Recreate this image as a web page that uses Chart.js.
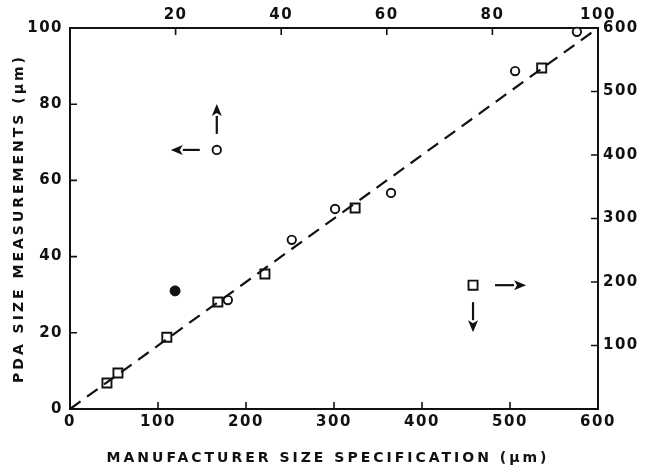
<!DOCTYPE html>
<html>
<head>
<meta charset="utf-8">
<script src="https://cdn.jsdelivr.net/npm/chart.js@4"></script>
<style>
  html, body { margin: 0; padding: 0; background: #fff; }
  #wrap { width: 648px; height: 475px; }
</style>
</head>
<body>
<div id="wrap"><canvas id="c"></canvas></div>
<script>
// PDA size measurements vs. manufacturer size specification, both in µm.

// Circle series: read on the top (0-100) and left (0-100) axes
const circleSpec = [29.9, 42, 50.2, 60.8, 84.3, 96];
const circleMeas = [28.6, 44.4, 52.5, 56.7, 88.7, 99];

// Filled circle (outlier), top/left axes
const outlierSpec = [19.9];
const outlierMeas = [31];

// Square series: read on the bottom (0-600) and right (0-600) axes
const squareSpec = [42, 54.5, 110, 168, 221.5, 324, 536];
const squareMeas = [41, 56.7, 113, 168.5, 212.6, 316.6, 537];

// Axis-key markers (each followed by arrows pointing to its axes)
const circleKeySpec = [27.8];
const circleKeyMeas = [68];
const squareKeySpec = [458];
const squareKeyMeas = [195];

// Line of equality, bottom/right axes
const equalitySpec = [0, 600];
const equalityMeas = [0, 600];

// Tick labels
const bottomTicks = [0, 100, 200, 300, 400, 500, 600];
const topTicks = [0, 20, 40, 60, 80, 100];
const leftTicks = [0, 20, 40, 60, 80, 100];
const rightTicks = [0, 100, 200, 300, 400, 500, 600];
const hiddenTopLabels = [0];
const hiddenRightLabels = [0];

const xTitle = 'MANUFACTURER SIZE SPECIFICATION (\u03BCm)';
const yTitle = 'PDA SIZE MEASUREMENTS (\u03BCm)';

const INK = '#111';
const tickFont = { family: 'DejaVu Sans', size: 15, weight: 'bold' };

const pairs = (xs, ys) => xs.map((v, i) => ({ x: v, y: ys[i] }));

function axis(position, min, max, ticks, hidden, size, pad) {
  return {
    type: 'linear',
    position: position,
    min: min,
    max: max,
    afterBuildTicks: s => { s.ticks = ticks.map(v => ({ value: v })); },
    afterFit: s => {
      if (position === 'left' || position === 'right') s.width = size; else s.height = size;
    },
    grid: { display: true, drawOnChartArea: false, drawTicks: false },
    border: { display: true, color: INK, width: 2 },
    ticks: {
      color: INK,
      font: tickFont,
      padding: pad,
      autoSkip: false,
      maxRotation: 0,
      callback: v => (hidden.includes(v) ? '' : String(v))
    }
  };
}

// Slightly wider spacing for the tick numerals
const tickSpacing = {
  id: 'tickSpacing',
  beforeDraw(chart) { chart.ctx.letterSpacing = '1.5px'; }
};

// Inward tick marks on all four axes
const innerTicks = {
  id: 'innerTicks',
  afterDraw(chart) {
    const ctx = chart.ctx;
    const a = chart.chartArea;
    const L = 7;
    ctx.save();
    ctx.strokeStyle = INK;
    ctx.lineWidth = 1.6;
    ctx.beginPath();
    for (const id of ['x', 'xTop', 'y', 'yRight']) {
      const s = chart.scales[id];
      s.ticks.forEach(t => {
        if (t.value === s.min || t.value === s.max) return;
        const p = s.getPixelForValue(t.value);
        if (id === 'x') { ctx.moveTo(p, a.bottom); ctx.lineTo(p, a.bottom - L); }
        if (id === 'xTop') { ctx.moveTo(p, a.top); ctx.lineTo(p, a.top + L); }
        if (id === 'y') { ctx.moveTo(a.left, p); ctx.lineTo(a.left + L, p); }
        if (id === 'yRight') { ctx.moveTo(a.right, p); ctx.lineTo(a.right - L, p); }
      });
    }
    ctx.stroke();
    ctx.restore();
  }
};

function arrow(ctx, x0, y0, x1, y1) {
  const ang = Math.atan2(y1 - y0, x1 - x0);
  const head = 12, half = 5;
  const bx = x1 - head * Math.cos(ang), by = y1 - head * Math.sin(ang);
  ctx.beginPath();
  ctx.moveTo(x0, y0);
  ctx.lineTo(bx, by);
  ctx.stroke();
  ctx.beginPath();
  ctx.moveTo(x1, y1);
  ctx.lineTo(bx - half * Math.sin(ang), by + half * Math.cos(ang));
  ctx.lineTo(bx + 3 * Math.cos(ang), by + 3 * Math.sin(ang));
  ctx.lineTo(bx + half * Math.sin(ang), by - half * Math.cos(ang));
  ctx.closePath();
  ctx.fill();
}

// Arrows beside each key marker, pointing at the axes that series uses
const keyArrows = {
  id: 'keyArrows',
  afterDatasetsDraw(chart) {
    const ctx = chart.ctx;
    const s = chart.scales;
    ctx.save();
    ctx.strokeStyle = INK;
    ctx.fillStyle = INK;
    ctx.lineWidth = 2.2;
    const cx = s.xTop.getPixelForValue(circleKeySpec[0]);
    const cy = s.y.getPixelForValue(circleKeyMeas[0]);
    arrow(ctx, cx - 17, cy, cx - 46, cy);
    arrow(ctx, cx, cy - 16, cx, cy - 46);
    const qx = s.x.getPixelForValue(squareKeySpec[0]);
    const qy = s.yRight.getPixelForValue(squareKeyMeas[0]);
    arrow(ctx, qx + 22, qy, qx + 53, qy);
    arrow(ctx, qx, qy + 17, qx, qy + 47);
    ctx.restore();
  }
};

// Letter-spaced axis titles
const axisTitles = {
  id: 'axisTitles',
  afterDraw(chart) {
    const ctx = chart.ctx;
    const a = chart.chartArea;
    ctx.save();
    ctx.fillStyle = INK;
    ctx.font = 'bold 14px "DejaVu Sans"';
    ctx.letterSpacing = '3px';
    ctx.textAlign = 'center';
    ctx.textBaseline = 'middle';
    ctx.fillText(xTitle, (a.left + a.right) / 2 - 6, 458);
    ctx.translate(19, (a.top + a.bottom) / 2);
    ctx.rotate(-Math.PI / 2);
    ctx.fillText(yTitle, 0, 0);
    ctx.restore();
  }
};

const marker = { borderColor: INK, backgroundColor: '#fff', borderWidth: 1.9, clip: false, showLine: false };

new Chart(document.getElementById('c'), {
  type: 'scatter',
  data: {
    datasets: [
      {
        type: 'line', data: pairs(equalitySpec, equalityMeas), xAxisID: 'x', yAxisID: 'yRight',
        borderColor: INK, borderWidth: 2.2, borderDash: [13, 8], pointRadius: 0, fill: false, clip: false
      },
      Object.assign({ data: pairs(squareSpec, squareMeas), xAxisID: 'x', yAxisID: 'yRight', pointStyle: 'rect', pointRadius: 6.4 }, marker),
      Object.assign({ data: pairs(squareKeySpec, squareKeyMeas), xAxisID: 'x', yAxisID: 'yRight', pointStyle: 'rect', pointRadius: 6.4 }, marker),
      Object.assign({ data: pairs(circleSpec, circleMeas), xAxisID: 'xTop', yAxisID: 'y', pointStyle: 'circle', pointRadius: 4.2 }, marker),
      Object.assign({ data: pairs(circleKeySpec, circleKeyMeas), xAxisID: 'xTop', yAxisID: 'y', pointStyle: 'circle', pointRadius: 4.2 }, marker),
      {
        data: pairs(outlierSpec, outlierMeas), xAxisID: 'xTop', yAxisID: 'y', pointStyle: 'circle',
        pointRadius: 5, borderColor: INK, backgroundColor: INK, borderWidth: 1, clip: false
      }
    ]
  },
  options: {
    responsive: true,
    maintainAspectRatio: false,
    animation: false,
    events: [],
    layout: { padding: 0 },
    plugins: { legend: { display: false }, tooltip: { enabled: false } },
    scales: {
      x: axis('bottom', 0, 600, bottomTicks, [], 66, 4),
      xTop: axis('top', 0, 100, topTicks, hiddenTopLabels, 28, 4),
      y: axis('left', 0, 100, leftTicks, [], 70, 7),
      yRight: axis('right', 0, 600, rightTicks, hiddenRightLabels, 50, 5)
    }
  },
  plugins: [tickSpacing, innerTicks, keyArrows, axisTitles]
});
</script>
</body>
</html>
